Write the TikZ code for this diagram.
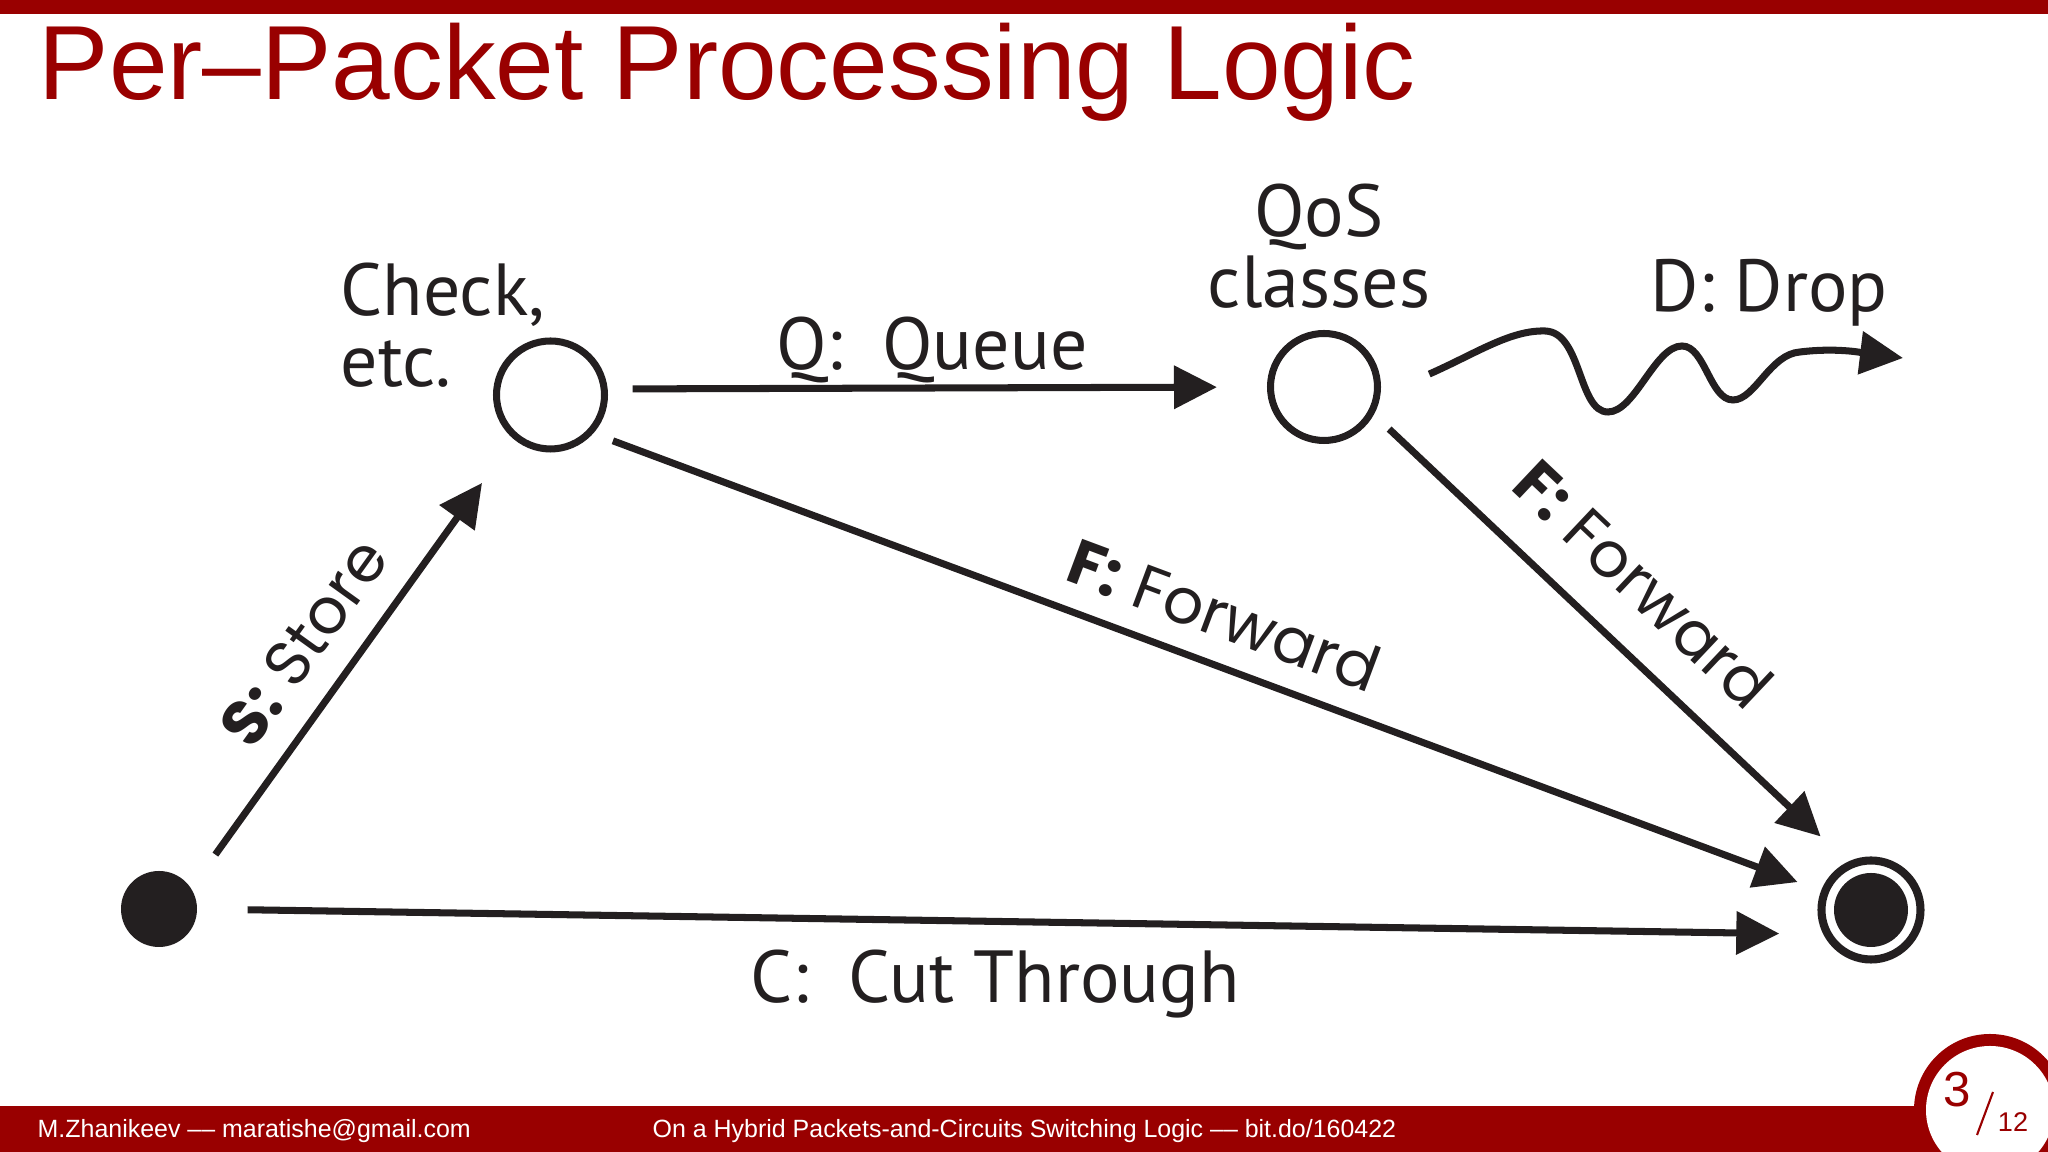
\documentclass[tikz,border=0pt]{standalone}
\usepackage{fontspec}
\setmainfont{PT Sans}
\newfontfamily\slidefont{Liberation Sans}
\newfontfamily\edgefont{Poppins}
\usetikzlibrary{arrows.meta,calc}

\definecolor{ink}{HTML}{231F20}
\definecolor{slidered}{HTML}{990000}

\tikzset{
  state/.style={circle,draw=ink,line width=2pt,minimum size=1.08cm,inner sep=0pt},
  initstate/.style={circle,fill=ink,minimum size=0.76cm,inner sep=0pt},
  endstate/.style={circle,draw=ink,line width=2.3pt,minimum size=0.99cm,inner sep=0pt,
    path picture={\fill[ink] (path picture bounding box.center) circle (0.37);}},
  arr/.style={draw=ink,line width=2pt,-{Triangle[length=0.43cm,width=0.42cm]}},
  lbl/.style={text=ink,inner sep=0pt,font=\fontsize{21}{20.2}\selectfont},
  edgelbl/.style={text=ink,inner sep=0pt,sloped,font=\edgefont\fontsize{18}{20}\selectfont},
  footlbl/.style={anchor=base west,inner sep=0pt,text=white,font=\slidefont\fontsize{7.1}{8}\selectfont},
}

\begin{document}
\begin{tikzpicture}
    \useasboundingbox (0,0) rectangle (20.48,11.52);
    % slide frame
    \fill[slidered] (0,11.38) rectangle (20.48,11.52);
    \fill[slidered] (0,0) rectangle (20.48,0.46);
    \node[anchor=base west,inner sep=0pt,text=slidered,font=\slidefont\fontsize{30}{32}\selectfont] (title) at (0.38,10.52) {Per–Packet Processing Logic};
    \node[footlbl] (author) at (0.37,0.14) {M.Zhanikeev –– maratishe@gmail.com};
    \node[footlbl] (talk) at (6.52,0.14) {On a Hybrid Packets-and-Circuits Switching Logic –– bit.do/160422};
    % page number
    \fill[slidered] (19.90,0.42) circle (0.76);
    \fill[white] (19.90,0.42) circle (0.64);
    \node[inner sep=0pt,text=slidered,font=\slidefont\fontsize{14}{16}\selectfont] (page) at (19.57,0.62) {3};
    \node[inner sep=0pt,text=slidered,font=\slidefont\fontsize{7.7}{9}\selectfont] (total) at (20.13,0.30) {12};
    \draw[slidered,line width=0.6pt] (19.93,0.60) -- (19.77,0.17);

    % states
    \node[initstate] (start) at (1.59,2.43) {};
    \node[state] (check) at (5.505,7.57) {};
    \node[state,minimum size=1.07cm] (qos) at (13.24,7.65) {};
    \node[endstate] (final) at (18.71,2.42) {};

    % state and transition texts
    \node[lbl,anchor=base west,align=left] (checklbl) at (3.40,7.65) {Check,\\etc.};
    \node[lbl,anchor=base,align=center] (qoslbl) at (13.19,8.44) {QoS\\classes};
    \node[lbl,anchor=base] (queuelbl) at (9.32,7.82) {Q:\ \ Queue};
    \node[lbl,anchor=base west] (droplbl) at (16.50,8.40) {D: Drop};
    \node[lbl,anchor=base west] (cutlbl) at (7.50,1.49) {C:\ \ Cut Through};

    % transitions
    \draw[arr,shorten <=0.41cm,shorten >=0.54cm] (start.33) -- (check.230) node[edgelbl,pos=0.48,yshift=0.52cm] (storelbl) {\textbf{S:} Store};
    \draw[arr,shorten <=0.25cm,shorten >=0.50cm] (check.6) -- (qos.180);
    \draw[arr,shorten <=0.21cm,shorten >=0.25cm] (check.318) -- (final.159) node[edgelbl,pos=0.5,yshift=0.50cm] (fwdlbl) {\textbf{F:} Forward};
    \draw[arr,shorten <=0.21cm,shorten >=0.37cm] (qos.331) -- (final.116) node[edgelbl,pos=0.48,yshift=0.62cm] (qfwdlbl) {\textbf{F:} Forward};
    \draw[arr,shorten <=0.50cm,shorten >=0.44cm] (start.0) -- (final.207);
    \coordinate (dropstart) at ($(qos)+(7:1.06)$);
    \coordinate (dropend) at (19.03,7.94);
    \draw[arr] (dropstart) .. controls (14.75,7.98) and (15.10,8.22) .. (15.45,8.21)
        .. controls (15.82,8.20) and (15.78,7.40) .. (16.08,7.40)
        .. controls (16.35,7.40) and (16.55,8.06) .. (16.82,8.06)
        .. controls (17.05,8.06) and (17.10,7.52) .. (17.33,7.52)
        .. controls (17.55,7.52) and (17.70,7.98) .. (18.00,8.00)
        .. controls (18.40,8.05) and (18.70,7.98) .. (dropend);
\end{tikzpicture}
\end{document}
